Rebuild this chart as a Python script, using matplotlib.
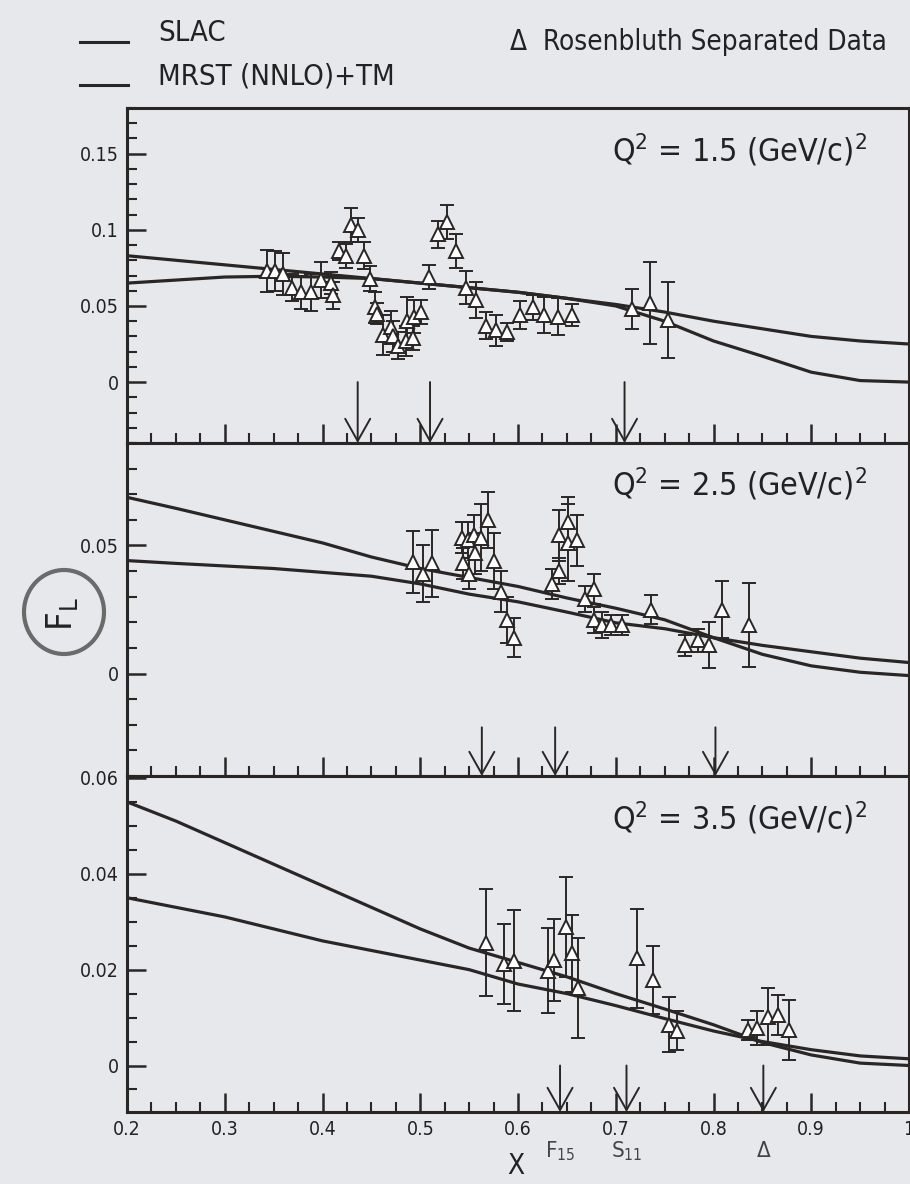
import numpy as np
import matplotlib
matplotlib.use("Agg")
import matplotlib.pyplot as plt
from matplotlib.ticker import MultipleLocator, FormatStrFormatter
from matplotlib.lines import Line2D
from matplotlib.patches import Ellipse

plt.rcParams['font.family'] = ['DejaVu Sans']
plt.rcParams['font.stretch'] = 'condensed'
plt.rcParams['mathtext.default'] = 'regular'

# model curves (x grid shared by all panels)
xc = [0.2, 0.25, 0.3, 0.35, 0.4, 0.45, 0.5, 0.55, 0.6, 0.65, 0.7, 0.75, 0.8, 0.85, 0.9, 0.95, 1.0]
top_a = [0.083, 0.080, 0.077, 0.074, 0.071, 0.068, 0.065, 0.062, 0.059, 0.055, 0.051, 0.046, 0.040, 0.035, 0.030, 0.027, 0.025]
top_b = [0.065, 0.067, 0.069, 0.0695, 0.069, 0.068, 0.065, 0.062, 0.059, 0.055, 0.050, 0.040, 0.027, 0.017, 0.0065, 0.001, 0.0]
mid_a = [0.0688, 0.0645, 0.060, 0.0555, 0.051, 0.0455, 0.041, 0.0375, 0.034, 0.0295, 0.0255, 0.021, 0.014, 0.0075, 0.003, 0.0005, -0.0008]
mid_b = [0.0441, 0.043, 0.042, 0.041, 0.0395, 0.038, 0.035, 0.031, 0.028, 0.024, 0.0198, 0.0175, 0.014, 0.011, 0.0085, 0.006, 0.0043]
bot_a = [0.055, 0.051, 0.0465, 0.042, 0.0375, 0.033, 0.0285, 0.0245, 0.0215, 0.0185, 0.015, 0.0118, 0.0085, 0.0048, 0.0022, 0.0005, 0.0]
bot_b = [0.035, 0.033, 0.031, 0.0285, 0.026, 0.024, 0.022, 0.020, 0.017, 0.015, 0.0125, 0.0098, 0.0072, 0.005, 0.0033, 0.002, 0.0014]

# Rosenbluth separated data
x1 = [0.343, 0.351, 0.360, 0.369, 0.378, 0.388, 0.398, 0.409, 0.411, 0.417,
      0.424, 0.429, 0.436, 0.442, 0.449, 0.454, 0.456, 0.462, 0.470, 0.472,
      0.477, 0.485, 0.486, 0.493, 0.494, 0.501, 0.509, 0.518, 0.527, 0.537,
      0.547, 0.557, 0.567, 0.578, 0.589, 0.602, 0.615, 0.627, 0.641, 0.655,
      0.717, 0.735, 0.753]
y1 = [0.073, 0.073, 0.071, 0.062, 0.059, 0.059, 0.067, 0.065, 0.057, 0.086,
      0.083, 0.103, 0.100, 0.083, 0.068, 0.049, 0.045, 0.031, 0.036, 0.030,
      0.024, 0.027, 0.040, 0.029, 0.043, 0.046, 0.069, 0.097, 0.105, 0.086,
      0.062, 0.054, 0.037, 0.034, 0.033, 0.044, 0.049, 0.044, 0.043, 0.044,
      0.048, 0.052, 0.041]
e1 = [0.014, 0.013, 0.014, 0.009, 0.011, 0.012, 0.012, 0.007, 0.009, 0.006,
      0.008, 0.011, 0.008, 0.009, 0.008, 0.010, 0.007, 0.013, 0.011, 0.010,
      0.009, 0.010, 0.016, 0.008, 0.011, 0.008, 0.008, 0.009, 0.011, 0.011,
      0.011, 0.012, 0.009, 0.010, 0.006, 0.009, 0.008, 0.012, 0.012, 0.007,
      0.013, 0.027, 0.025]

x2 = [0.493, 0.503, 0.5125, 0.543, 0.544, 0.549, 0.550, 0.555, 0.556, 0.562,
      0.569, 0.575, 0.583, 0.589, 0.596, 0.6345, 0.642, 0.642, 0.651, 0.651,
      0.6605, 0.669, 0.678, 0.678, 0.686, 0.695, 0.706, 0.736, 0.771, 0.784,
      0.795, 0.809, 0.836]
y2 = [0.0435, 0.039, 0.043, 0.053, 0.043, 0.052, 0.039, 0.054, 0.047, 0.053,
      0.060, 0.044, 0.032, 0.021, 0.014, 0.035, 0.040, 0.054, 0.059, 0.051,
      0.052, 0.029, 0.033, 0.021, 0.019, 0.019, 0.019, 0.025, 0.011, 0.013,
      0.011, 0.025, 0.019]
e2 = [0.012, 0.011, 0.013, 0.006, 0.006, 0.007, 0.006, 0.008, 0.008, 0.013,
      0.011, 0.011, 0.008, 0.009, 0.0075, 0.006, 0.005, 0.010, 0.010, 0.015,
      0.010, 0.005, 0.006, 0.005, 0.005, 0.004, 0.004, 0.0055, 0.004, 0.0045,
      0.009, 0.011, 0.0165]

x3 = [0.567, 0.586, 0.596, 0.631, 0.637, 0.649, 0.655, 0.661, 0.722, 0.738,
      0.754, 0.763, 0.835, 0.845, 0.856, 0.866, 0.877]
y3 = [0.0256, 0.0212, 0.0219, 0.0198, 0.022, 0.0289, 0.0234, 0.0162, 0.0224, 0.0179,
      0.0085, 0.0073, 0.0074, 0.0078, 0.0102, 0.0105, 0.0074]
e3 = [0.0112, 0.0084, 0.0105, 0.0089, 0.0085, 0.0105, 0.0081, 0.0105, 0.0103, 0.0071,
      0.0057, 0.0041, 0.0021, 0.0035, 0.0059, 0.0042, 0.0062]

# resonance positions (F15, S11, Delta) for each Q^2
res1 = [0.436, 0.51, 0.709]
res2 = [0.563, 0.638, 0.802]
res3 = [0.643, 0.711, 0.851]

q2_labels = ['1.5', '2.5', '3.5']

paper = '#e7e8ec'
ink = '#2a2626'

fig = plt.figure(figsize=(9.1, 11.84), dpi=100, facecolor=paper)
left, width = 127 / 910, 782 / 910
ax1 = fig.add_axes([left, 1 - 443 / 1184, width, 335 / 1184])
ax2 = fig.add_axes([left, 1 - 776 / 1184, width, 333 / 1184])
ax3 = fig.add_axes([left, 1 - 1112 / 1184, width, 336 / 1184])

panels = [
    (ax1, x1, y1, e1, top_a, top_b, res1, (-0.040, 0.180), 0.05, 0.01, (0.0, -0.040)),
    (ax2, x2, y2, e2, mid_a, mid_b, res2, (-0.040, 0.090), 0.05, 0.01, (-0.021, -0.040)),
    (ax3, x3, y3, e3, bot_a, bot_b, res3, (-0.0097, 0.0604), 0.02, 0.005, (0.0, -0.0097)),
]

for i, (ax, xs, ys, es, ca, cb, res, ylim, maj, mnr, arr) in enumerate(panels):
    ax.set_facecolor(paper)
    ax.plot(xc, ca, color=ink, lw=2.3, solid_capstyle='round')
    ax.plot(xc, cb, color=ink, lw=2.3, solid_capstyle='round')
    ax.errorbar(xs, ys, yerr=es, fmt='^', ms=10, mfc='white', mec=ink, mew=1.4,
                ecolor=ink, elinewidth=1.4, capsize=5, capthick=1.6, zorder=3)
    for r in res:
        ax.annotate('', xy=(r, arr[1]), xytext=(r, arr[0]),
                    arrowprops=dict(arrowstyle='->,head_length=0.8,head_width=0.45',
                                    color=ink, lw=1.4, mutation_scale=20,
                                    shrinkA=0, shrinkB=0))
    ax.set_xlim(0.2, 1.0)
    ax.set_ylim(*ylim)
    ax.xaxis.set_major_locator(MultipleLocator(0.1))
    ax.xaxis.set_minor_locator(MultipleLocator(0.025))
    ax.yaxis.set_major_locator(MultipleLocator(maj))
    ax.yaxis.set_minor_locator(MultipleLocator(mnr))
    ax.yaxis.set_major_formatter(FormatStrFormatter('%g'))
    ax.xaxis.set_major_formatter(FormatStrFormatter('%g'))
    ax.tick_params(which='major', direction='in', length=14, width=1.8, color=ink,
                   labelsize=14, labelcolor='#222222', pad=6)
    ax.tick_params(which='minor', direction='in', length=7, width=1.5, color=ink)
    ax.tick_params(top=False, right=False)
    if i < 2:
        ax.tick_params(labelbottom=False)
    for s in ax.spines.values():
        s.set_linewidth(2.2)
        s.set_color(ink)
    ax.text(0.62, 0.875, 'Q$^2$ = ' + q2_labels[i] + ' (GeV/c)$^2$', transform=ax.transAxes,
            ha='left', va='center', fontsize=23, color='#222222')

# legend at top of the page
for yy, lab in [(42, 'SLAC'), (85, 'MRST (NNLO)+TM')]:
    fig.add_artist(Line2D([80 / 910, 128 / 910], [1 - yy / 1184] * 2,
                          transform=fig.transFigure, color=ink, lw=2.2))
    fig.text(158 / 910, 1 - (yy - 9) / 1184, lab, ha='left', va='center',
             fontsize=21, color='#222222')
fig.text(510 / 910, 1 - 42 / 1184, '\u0394  Rosenbluth Separated Data', ha='left',
         va='center', fontsize=20, color='#222222')

# y label with the circle drawn around it
fig.text(62 / 910, 1 - 614 / 1184, 'F$_L$', rotation=90, ha='center', va='center',
         fontsize=26, color='#222222')
fig.add_artist(Ellipse((64 / 910, 1 - 612 / 1184), 80 / 910, 84 / 1184,
                       transform=fig.transFigure, fill=False, ec='#6a6a6a', lw=3))

# x label and resonance names
fig.text(516 / 910, 1 - 1166 / 1184, 'X', ha='center', va='center', fontsize=20, color='#222222')
for r, name in zip(res3, ['F$_{15}$', 'S$_{11}$', '\u0394']):
    ax3.text(r, -0.0178, name, ha='center', va='center', fontsize=16, color='#444444')

fig.savefig('out.png', dpi=100, facecolor=paper)
